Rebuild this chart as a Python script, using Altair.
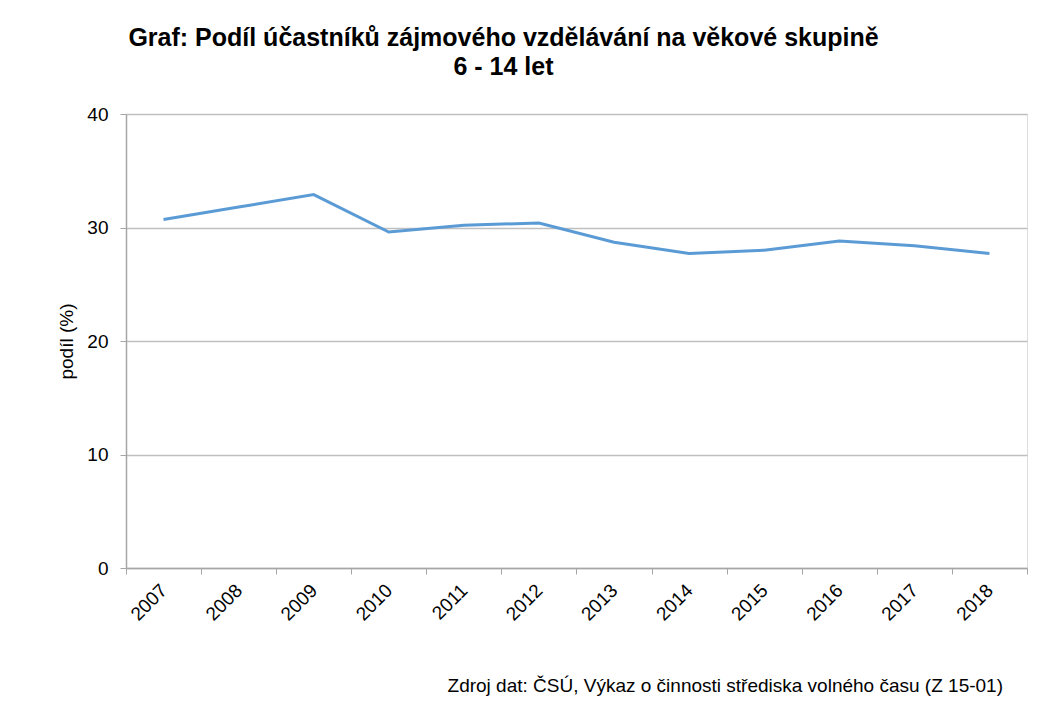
import altair as alt
import pandas as pd

years = ["2007", "2008", "2009", "2010", "2011", "2012",
         "2013", "2014", "2015", "2016", "2017", "2018"]
share = [30.7, 31.8, 32.9, 29.6, 30.2, 30.4,
         28.7, 27.7, 28.0, 28.8, 28.4, 27.7]

title_lines = ["Graf: Podíl účastníků zájmového vzdělávání na věkové skupině", "6 - 14 let"]
y_title = "podíl (%)"
source_note = "Zdroj dat: ČSÚ, Výkaz o činnosti střediska volného času (Z 15-01)"

df = pd.DataFrame({"rok": years, "podil": share})

FONT = "Liberation Sans"

base = alt.Chart(df)

line = base.mark_line(color="#5B9BD5", strokeWidth=3).encode(
    x=alt.X(
        "rok:O",
        sort=years,
        bandPosition=0.5,
        scale=alt.Scale(type="band", paddingInner=0, paddingOuter=0),
        axis=alt.Axis(
            title=None,
            tickBand="extent",
            labelAngle=-45,
            labelAlign="right",
            labelBaseline="middle",
            labelFontSize=19,
            labelFont=FONT,
            labelColor="#000000",
            labelPadding=13,
            tickSize=6,
            tickColor="#A6A6A6",
            domainColor="#A6A6A6",
            domainWidth=1.5,
            grid=False,
        ),
    ),
    y=alt.Y(
        "podil:Q",
        scale=alt.Scale(domain=[0, 40]),
        axis=alt.Axis(
            title=y_title,
            values=[0, 10, 20, 30, 40],
            titleFont=FONT,
            titleFontSize=19,
            titleFontWeight="normal",
            titleColor="#000000",
            titlePadding=10,
            labelFontSize=19,
            labelFont=FONT,
            labelColor="#000000",
            labelPadding=12,
            tickSize=6,
            tickColor="#A6A6A6",
            domainColor="#A6A6A6",
            domainWidth=1.5,
            grid=True,
            gridColor="#BFBFBF",
            gridWidth=1.5,
        ),
    ),
)

note = alt.Chart(pd.DataFrame({"t": [source_note]})).mark_text(
    align="right", baseline="middle", fontSize=19, font=FONT, color="#000000"
).encode(
    text="t:N",
    x=alt.value(877),
    y=alt.value(572),
)

chart = (
    alt.layer(line, note)
    .properties(
        width=901,
        height=454,
        autosize=alt.AutoSizeParams(type="none"),
        padding={"left": 118, "top": 106, "right": 10, "bottom": 130},
        title=alt.TitleParams(
            text=title_lines,
            anchor="middle",
            font=FONT,
            fontSize=25,
            fontWeight="bold",
            color="#000000",
            dx=-73,
            offset=25,
            lineHeight=29,
        ),
    )
    .configure_view(stroke=None)
    .configure(background="white")
)

chart.save("out.html", embed_options={"renderer": "svg", "actions": False})
